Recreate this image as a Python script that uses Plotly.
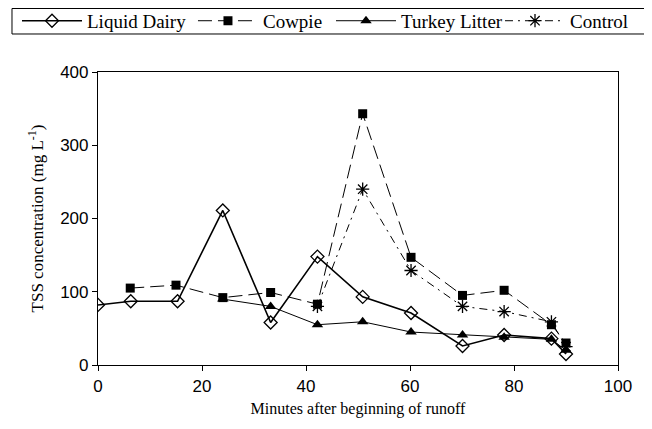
import plotly.graph_objects as go

dairy_x = [0, 6.3, 15.3, 24, 33.2, 42.2, 50.9, 60.2, 70.1, 78.1, 87.2, 90]
dairy_y = [82, 87, 87, 211, 58, 148, 93, 71, 26, 41, 36, 15]

cowpie_x = [6.2, 15, 24, 33.2, 42.2, 50.9, 60.2, 70.1, 78.1, 87.2, 90]
cowpie_y = [105, 109, 92, 99, 83, 343, 147, 95, 102, 55, 30]

turkey_x = [24, 33.2, 42.2, 50.9, 60.2, 70.1, 78.1, 87.2, 90]
turkey_y = [90, 80, 55, 59, 45, 41, 38, 35, 20]

control_x = [42.2, 50.9, 60.2, 70.1, 78.1, 87.2, 90]
control_y = [80, 240, 129, 80, 73, 59, 25]

x_ticks = [0, 20, 40, 60, 80, 100]
y_ticks = [0, 100, 200, 300, 400]

SERIF = "Liberation Serif, Times New Roman, serif"
SANS = "Liberation Sans, Arial, sans-serif"

fig = go.Figure()
fig.add_trace(go.Scatter(x=dairy_x, y=dairy_y, name="Liquid Dairy", mode="lines+markers", legend="legend",
                         line=dict(color="black", width=1.6),
                         marker=dict(symbol="diamond-open", size=10, color="black", line=dict(width=1.3))))
fig.add_trace(go.Scatter(x=cowpie_x, y=cowpie_y, name="Cowpie", mode="lines+markers", legend="legend2",
                         line=dict(color="black", width=1, dash="14px,6px"),
                         marker=dict(symbol="square", size=9, color="black")))
fig.add_trace(go.Scatter(x=turkey_x, y=turkey_y, name="Turkey Litter", mode="lines+markers", legend="legend3",
                         line=dict(color="black", width=1),
                         marker=dict(symbol="triangle-up", size=10, color="black")))
fig.add_trace(go.Scatter(x=control_x, y=control_y, name="Control", mode="lines+markers", legend="legend4",
                         line=dict(color="black", width=1, dash="8px,5px,2px,5px"),
                         marker=dict(symbol="asterisk-open", size=11, color="black", line=dict(width=1.3, color="black"))))

def leg(xpos):
    return dict(orientation="h", xref="container", yref="container",
                x=xpos, xanchor="left", y=0.970, yanchor="middle",
                bgcolor="rgba(0,0,0,0)", borderwidth=0,
                font=dict(family=SERIF, size=19, color="black"),
                itemwidth=60)

fig.update_layout(
    width=652, height=429,
    margin=dict(l=90, r=42, t=64, b=72, autoexpand=False),
    paper_bgcolor="white", plot_bgcolor="white",
    font=dict(family=SERIF, color="black"),
    showlegend=True,
    legend=leg(0.0138), legend2=leg(0.2837), legend3=leg(0.4954), legend4=leg(0.7546),
    shapes=[dict(type="rect", xref="paper", yref="paper", x0=-0.1654, x1=1.052, y0=1.1297, y1=1.2167,
                 line=dict(color="black", width=1), fillcolor="rgba(0,0,0,0)", layer="above")],
)
fig.update_xaxes(range=[0, 100], tickvals=x_ticks, showline=True, linecolor="black", linewidth=1.2,
                 mirror=True, ticks="outside", ticklen=5, tickcolor="black", showgrid=False, zeroline=False,
                 automargin=False,
                 tickfont=dict(family=SANS, size=17, color="black"),
                 title=dict(text="Minutes after beginning of runoff", font=dict(family=SERIF, size=16), standoff=8))
fig.update_yaxes(range=[0, 400], tickvals=y_ticks, showline=True, linecolor="black", linewidth=1.2,
                 mirror=True, ticks="outside", ticklen=5, tickcolor="black", showgrid=False, zeroline=False,
                 automargin=False,
                 tickfont=dict(family=SANS, size=17, color="black"),
                 title=dict(text="TSS concentration (mg L<sup>-1</sup>)", font=dict(family=SERIF, size=17), standoff=12))

fig.write_html("out.html")
